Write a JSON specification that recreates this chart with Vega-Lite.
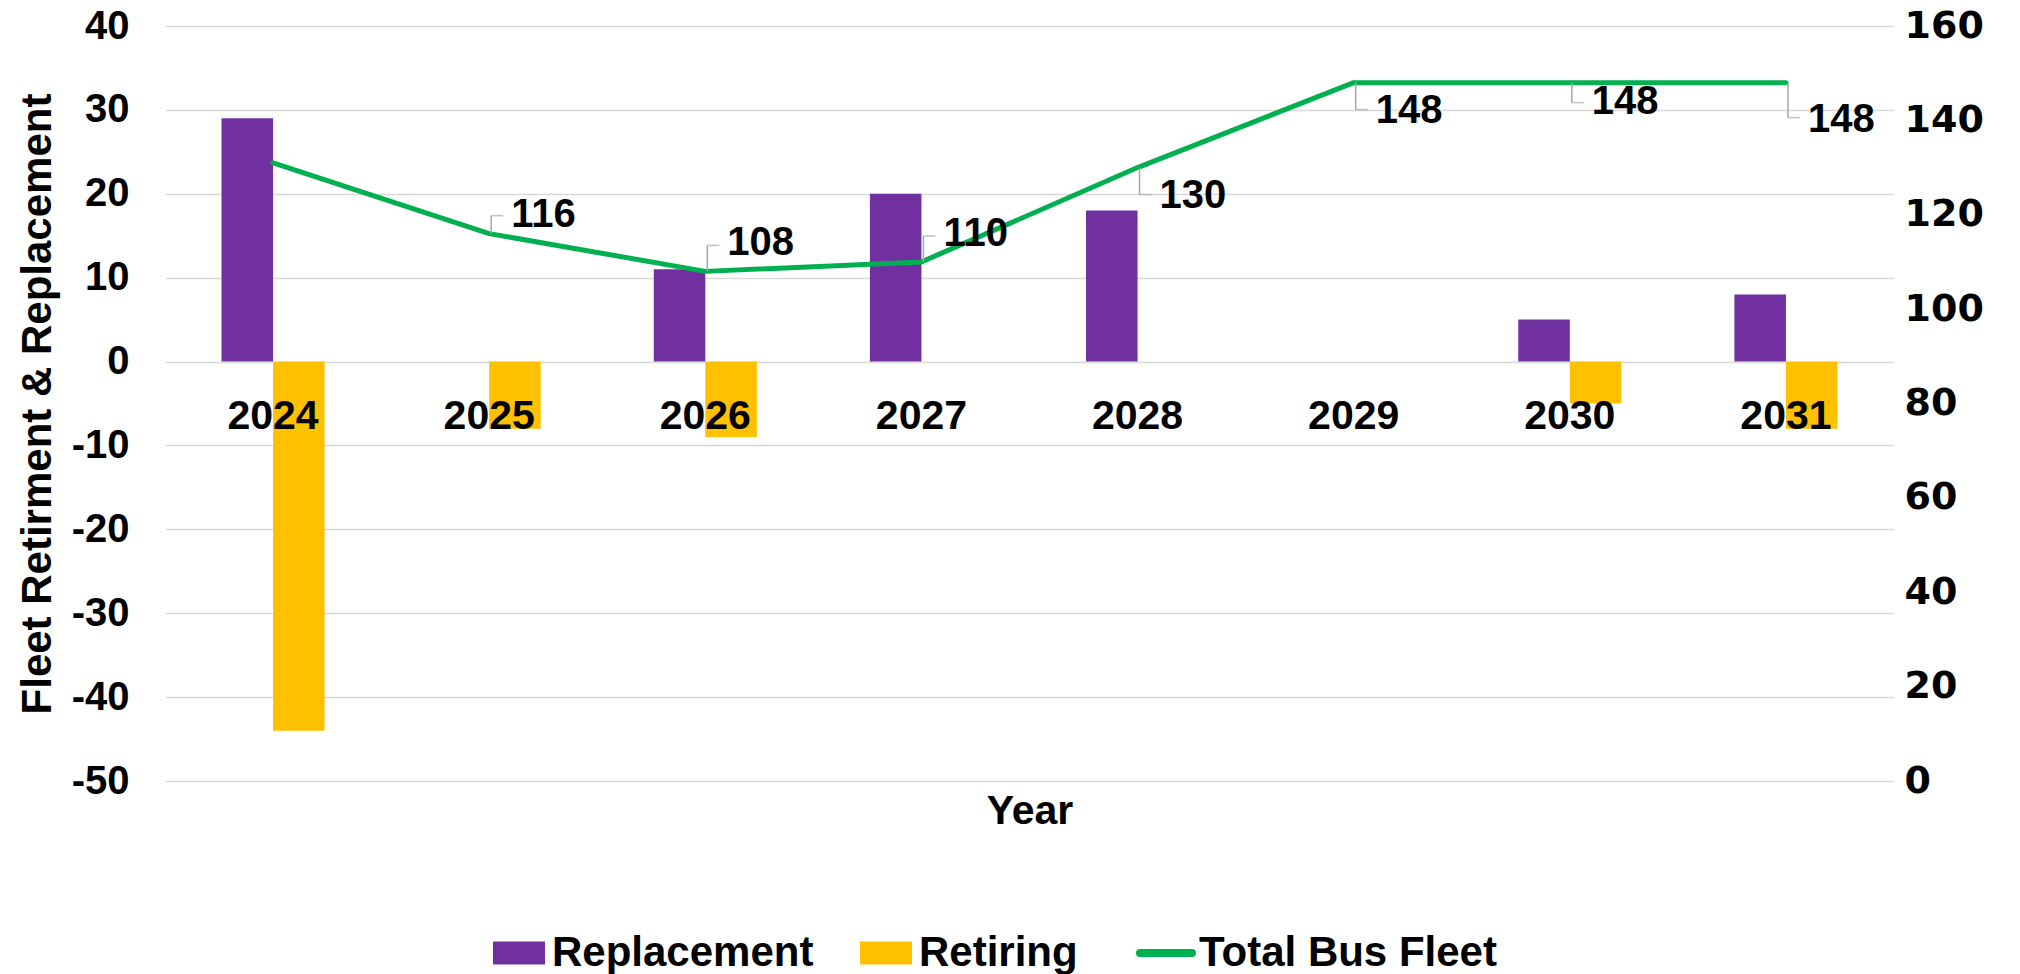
{
  "$schema": "https://vega.github.io/schema/vega-lite/v6.json",
  "autosize": {"type": "none"},
  "width": 1729,
  "height": 755,
  "padding": {"left": 165, "top": 26, "right": 126, "bottom": 193},
  "background": "white",
  "config": {"view": {"stroke": null}, "font": "Liberation Sans"},
  "datasets": {
    "bars": [
      {"Year": "2024", "Series": "Replacement", "Value": 29},
      {"Year": "2024", "Series": "Retiring", "Value": -44},
      {"Year": "2025", "Series": "Replacement", "Value": 0},
      {"Year": "2025", "Series": "Retiring", "Value": -8},
      {"Year": "2026", "Series": "Replacement", "Value": 11},
      {"Year": "2026", "Series": "Retiring", "Value": -9},
      {"Year": "2027", "Series": "Replacement", "Value": 20},
      {"Year": "2027", "Series": "Retiring", "Value": 0},
      {"Year": "2028", "Series": "Replacement", "Value": 18},
      {"Year": "2028", "Series": "Retiring", "Value": 0},
      {"Year": "2029", "Series": "Replacement", "Value": 0},
      {"Year": "2029", "Series": "Retiring", "Value": 0},
      {"Year": "2030", "Series": "Replacement", "Value": 5},
      {"Year": "2030", "Series": "Retiring", "Value": -5},
      {"Year": "2031", "Series": "Replacement", "Value": 8},
      {"Year": "2031", "Series": "Retiring", "Value": -8}
    ],
    "fleet": [
      {"Year": "2024", "Total": 131},
      {"Year": "2025", "Total": 116},
      {"Year": "2026", "Total": 108},
      {"Year": "2027", "Total": 110},
      {"Year": "2028", "Total": 130},
      {"Year": "2029", "Total": 148},
      {"Year": "2030", "Total": 148},
      {"Year": "2031", "Total": 148}
    ]
  },
  "layer": [
    {
      "data": {"name": "bars"},
      "mark": {"type": "bar"},
      "encoding": {
        "x": {
          "field": "Year", "type": "nominal",
          "scale": {"paddingInner": 0.523, "paddingOuter": 0.2615},
          "axis": {
            "title": "Year", "offset": -419, "domain": false, "ticks": false,
            "labelFont": "Liberation Sans", "labelFontSize": 41, "labelFontWeight": "bold",
            "labelColor": "black", "labelPadding": 34, "labelAngle": 0,
            "titleFont": "Liberation Sans", "titleFontSize": 41, "titleFontWeight": "bold",
            "titleColor": "black", "titlePadding": 355, "zindex": 1
          }
        },
        "xOffset": {
          "field": "Series", "type": "nominal",
          "scale": {"domain": ["Replacement", "Retiring"], "paddingInner": 0, "paddingOuter": 0}
        },
        "y": {
          "field": "Value", "type": "quantitative",
          "scale": {"domain": [-50, 40], "nice": false, "zero": false},
          "axis": {
            "title": "Fleet Retirment & Replacement",
            "values": [-50, -40, -30, -20, -10, 0, 10, 20, 30, 40],
            "labelExpr": "toString(datum.value)",
            "domain": false, "ticks": false, "labelPadding": 36,
            "labelFont": "Liberation Sans", "labelFontSize": 40, "labelFontWeight": "bold", "labelColor": "black",
            "titleFont": "Liberation Sans", "titleFontSize": 42, "titleFontWeight": "bold", "titleColor": "black",
            "titlePadding": 12, "gridColor": "#d9d9d9", "gridWidth": 1.5, "zindex": 0
          }
        },
        "color": {
          "field": "Series", "type": "nominal",
          "scale": {"domain": ["Replacement", "Retiring", "Total Bus Fleet"], "range": ["#7030a0", "#ffc000", "#00b050"]},
          "legend": {
            "title": null, "orient": "none", "legendX": 333, "legendY": 906, "direction": "horizontal",
            "labelFont": "Liberation Sans", "labelFontSize": 42, "labelFontWeight": "bold", "labelColor": "black",
            "symbolSize": 2704, "labelOffset": 12, "columnPadding": 46, "labelLimit": 600,
            "encode": {
              "symbols": {
                "update": {
                  "shape": {"signal": "datum.value === 'Total Bus Fleet' ? 'stroke' : 'M-1,-0.44L1,-0.44L1,0.44L-1,0.44Z'"},
                  "fill": {"signal": "datum.value === 'Replacement' ? '#7030a0' : datum.value === 'Retiring' ? '#ffc000' : 'transparent'"},
                  "stroke": {"signal": "datum.value === 'Total Bus Fleet' ? '#00b050' : 'transparent'"},
                  "strokeWidth": {"signal": "datum.value === 'Total Bus Fleet' ? 8 : 0"},
                  "strokeCap": {"value": "round"},
                  "opacity": {"value": 1}
                }
              }
            }
          }
        }
      }
    },
    {
      "data": {"name": "fleet"},
      "encoding": {
        "x": {"field": "Year", "type": "nominal"},
        "y": {
          "field": "Total", "type": "quantitative",
          "scale": {"domain": [0, 160], "nice": false},
          "axis": {
            "orient": "right", "title": null, "grid": false,
            "values": [0, 20, 40, 60, 80, 100, 120, 140, 160],
            "domain": false, "ticks": false, "labelPadding": 10,
            "labelFont": "DejaVu Sans", "labelFontSize": 38, "labelFontWeight": "bold", "labelColor": "black"
          }
        }
      },
      "layer": [
        {
          "mark": {"type": "line", "strokeWidth": 5, "strokeCap": "round", "strokeJoin": "round"},
          "encoding": {"color": {"datum": "Total Bus Fleet", "type": "nominal"}}
        },
        {
          "transform": [{"filter": {"field": "Year", "oneOf": ["2025"]}}],
          "layer": [
            {"mark": {"type": "rule", "xOffset": 2, "y2Offset": -18, "color": "#a6a6a6", "strokeWidth": 1.5}, "encoding": {"y2": {"field": "Total"}}},
            {"mark": {"type": "tick", "xOffset": 8, "yOffset": -18, "size": 12, "thickness": 1.5, "color": "#a6a6a6"}},
            {"mark": {"type": "text", "align": "left", "baseline": "middle", "dx": 22, "dy": -19, "font": "Liberation Sans", "fontSize": 40, "fontWeight": "bold", "color": "black"}, "encoding": {"text": {"field": "Total", "type": "quantitative"}}}
          ]
        },
        {
          "transform": [{"filter": {"field": "Year", "oneOf": ["2026", "2027"]}}],
          "layer": [
            {"mark": {"type": "rule", "xOffset": 2, "y2Offset": -26, "color": "#a6a6a6", "strokeWidth": 1.5}, "encoding": {"y2": {"field": "Total"}}},
            {"mark": {"type": "tick", "xOffset": 8, "yOffset": -26, "size": 12, "thickness": 1.5, "color": "#a6a6a6"}},
            {"mark": {"type": "text", "align": "left", "baseline": "middle", "dx": 22, "dy": -28, "font": "Liberation Sans", "fontSize": 40, "fontWeight": "bold", "color": "black"}, "encoding": {"text": {"field": "Total", "type": "quantitative"}}}
          ]
        },
        {
          "transform": [{"filter": {"field": "Year", "oneOf": ["2028", "2029"]}}],
          "layer": [
            {"mark": {"type": "rule", "xOffset": 2, "y2Offset": 27, "color": "#a6a6a6", "strokeWidth": 1.5}, "encoding": {"y2": {"field": "Total"}}},
            {"mark": {"type": "tick", "xOffset": 8, "yOffset": 27, "size": 12, "thickness": 1.5, "color": "#a6a6a6"}},
            {"mark": {"type": "text", "align": "left", "baseline": "middle", "dx": 22, "dy": 28, "font": "Liberation Sans", "fontSize": 40, "fontWeight": "bold", "color": "black"}, "encoding": {"text": {"field": "Total", "type": "quantitative"}}}
          ]
        },
        {
          "transform": [{"filter": {"field": "Year", "oneOf": ["2030"]}}],
          "layer": [
            {"mark": {"type": "rule", "xOffset": 2, "y2Offset": 20, "color": "#a6a6a6", "strokeWidth": 1.5}, "encoding": {"y2": {"field": "Total"}}},
            {"mark": {"type": "tick", "xOffset": 8, "yOffset": 20, "size": 12, "thickness": 1.5, "color": "#a6a6a6"}},
            {"mark": {"type": "text", "align": "left", "baseline": "middle", "dx": 22, "dy": 19, "font": "Liberation Sans", "fontSize": 40, "fontWeight": "bold", "color": "black"}, "encoding": {"text": {"field": "Total", "type": "quantitative"}}}
          ]
        },
        {
          "transform": [{"filter": {"field": "Year", "oneOf": ["2031"]}}],
          "layer": [
            {"mark": {"type": "rule", "xOffset": 2, "y2Offset": 35, "color": "#a6a6a6", "strokeWidth": 1.5}, "encoding": {"y2": {"field": "Total"}}},
            {"mark": {"type": "tick", "xOffset": 8, "yOffset": 35, "size": 12, "thickness": 1.5, "color": "#a6a6a6"}},
            {"mark": {"type": "text", "align": "left", "baseline": "middle", "dx": 22, "dy": 37, "font": "Liberation Sans", "fontSize": 40, "fontWeight": "bold", "color": "black"}, "encoding": {"text": {"field": "Total", "type": "quantitative"}}}
          ]
        }
      ]
    }
  ],
  "resolve": {"scale": {"y": "independent"}}
}
